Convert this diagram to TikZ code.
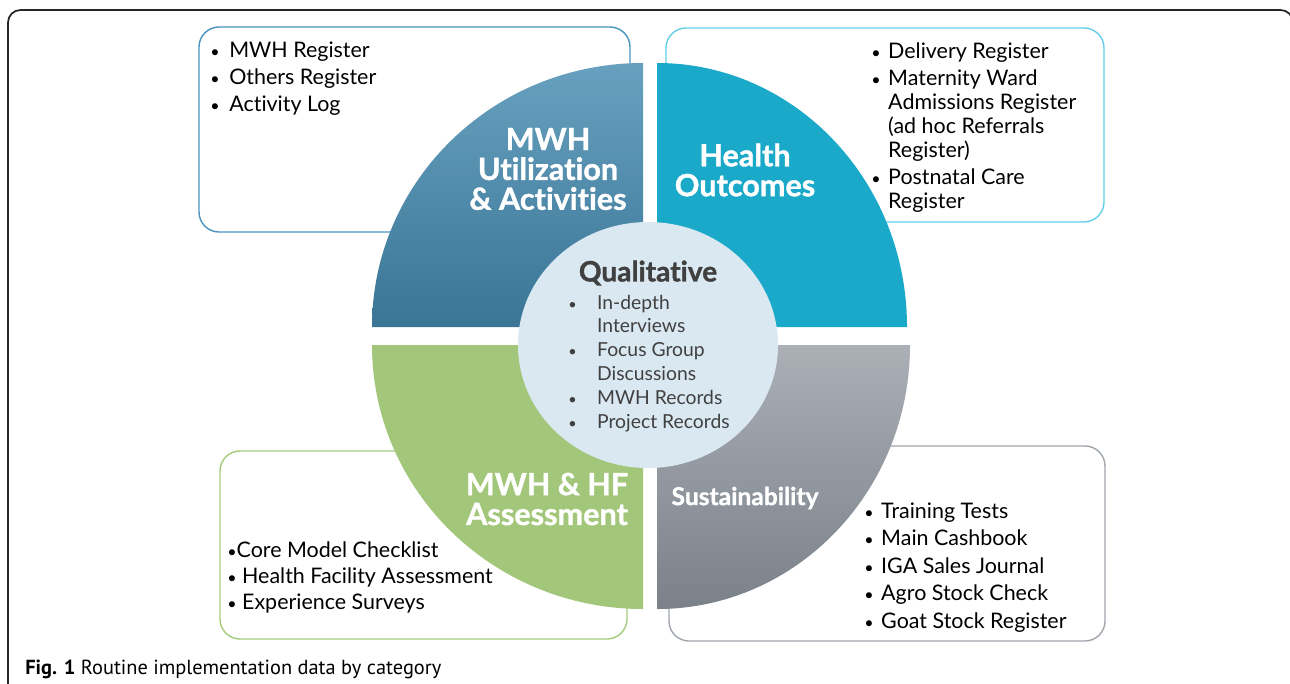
\documentclass[tikz,border=0pt]{standalone}
\usepackage{fontspec}
\setmainfont{Lato}[Ligatures={TeX,CommonOff}, BoldFeatures={FakeBold=1.2}]
\newfontfamily\capfont{PT Sans}
\tikzset{
  list-box/.style={
    line width=0.8pt,
    rounded corners=0.4cm,
    fill=white
  },
  quad-label/.style={text=white, font=\bfseries\fontsize{17.4}{17}\selectfont, align=center, inner sep=0pt},
  list-text/.style={anchor=base west, inner sep=0pt, font=\fontsize{12.2}{15.6}\selectfont, text=black},
  qual-text/.style={anchor=base west, inner sep=0pt, font=\fontsize{11}{13.6}\selectfont, text=qualtext}
}
\definecolor{utilblue}{RGB}{58,117,149}
\definecolor{utilbluelight}{RGB}{104,161,192}
\definecolor{outcomecyan}{RGB}{27,169,201}
\definecolor{assessgreen}{RGB}{163,199,122}
\definecolor{sustgray}{RGB}{122,129,137}
\definecolor{sustgraylight}{RGB}{171,175,182}
\definecolor{qualfill}{RGB}{218,232,241}
\definecolor{qualtext}{RGB}{64,64,64}
\definecolor{frameblue}{RGB}{75,148,190}
\definecolor{framecyan}{RGB}{100,206,230}
\definecolor{framegreen}{RGB}{165,204,125}
\definecolor{framegray}{RGB}{160,166,174}
\newcommand{\outerframe}{
  \useasboundingbox (0,0) rectangle (1290,683);
  \draw[line width=1pt, rounded corners=0.25cm, draw=black!85] (8,720) -- (8,10) -- (1293,10) -- (1293,720);
}
\newcommand{\itembullet}{\scalebox{0.75}{\textbullet}}

\begin{document}
\begin{tikzpicture}[x=0.02cm, y=-0.02cm]
  \outerframe
  % List boxes (behind the wheel)
  \draw[list-box, draw=frameblue] (199,27) rectangle (630,232);
  \draw[list-box, draw=framecyan] (666,28) rectangle (1104,222);
  \draw[list-box, draw=framegreen] (220,451) rectangle (627,639);
  \draw[list-box, draw=framegray] (669,446) rectangle (1105,641);
  % Quadrants
  \shade[top color=utilbluelight, bottom color=utilblue]
    (643,327) -- (372,327) arc[start angle=180, end angle=270, x radius=271, y radius=264] -- cycle;
  \fill[outcomecyan]
    (657,327) -- (657,63) arc[start angle=270, end angle=360, x radius=250, y radius=264] -- cycle;
  \fill[assessgreen]
    (643,345) -- (643,609) arc[start angle=90, end angle=180, x radius=271, y radius=264] -- cycle;
  \shade[top color=sustgraylight, bottom color=sustgray]
    (657,345) -- (910,345) arc[start angle=0, end angle=90, x radius=253, y radius=264] -- cycle;
  % Centre
  \fill[qualfill] (648,345) ellipse[x radius=130, y radius=123];
  % Quadrant labels
  \node[quad-label] (util-label) at (548,169) {MWH\\Utilization\\\& Activities};
  \node[quad-label] (outcome-label) at (745,170) {Health\\Outcomes};
  \node[quad-label] (assess-label) at (547,499) {MWH \& HF\\Assessment};
  \node[quad-label, font=\bfseries\fontsize{14}{15}\selectfont] (sust-label) at (745,498) {Sustainability};
  % Qualitative
  \node[font=\bfseries\fontsize{16}{18}\selectfont, text=qualtext, inner sep=0pt] (qual-title) at (648,273) {Qualitative};
  \node[qual-text] (qual-list) at (568,309) {%
    \begin{tabular}[t]{@{}l@{}l@{}}
      \makebox[16.4pt][l]{\itembullet} & In-depth\\
       & Interviews\\
      \makebox[16.4pt][l]{\itembullet} & Focus Group\\
       & Discussions\\
      \makebox[16.4pt][l]{\itembullet} & MWH Records\\
      \makebox[16.4pt][l]{\itembullet} & Project Records
    \end{tabular}};
  % Lists
  \node[list-text] (util-list) at (210,57) {%
    \begin{tabular}[t]{@{}l@{}l@{}}
      \makebox[10.8pt][l]{\itembullet} & MWH Register\\
      \makebox[10.8pt][l]{\itembullet} & Others Register\\
      \makebox[10.8pt][l]{\itembullet} & Activity Log
    \end{tabular}};
  \node[list-text, font=\fontsize{12.2}{13.6}\selectfont] (outcome-list) at (871,58) {%
    \begin{tabular}[t]{@{}l@{}l@{}}
      \makebox[9.6pt][l]{\itembullet} & Delivery Register\\[2.2pt]
      \makebox[9.6pt][l]{\itembullet} & Maternity Ward\\
       & Admissions Register\\
       & (ad hoc Referrals\\
       & Register)\\[1.7pt]
      \makebox[9.6pt][l]{\itembullet} & Postnatal Care\\
       & Register
    \end{tabular}};
  \node[list-text, font=\fontsize{12.2}{15}\selectfont] (assess-list) at (227,557) {%
    \begin{tabular}[t]{@{}l@{}}
      \itembullet Core Model Checklist\\
      \itembullet{} Health Facility Assessment\\
      \itembullet{} Experience Surveys
    \end{tabular}};
  \node[list-text, font=\fontsize{12.2}{15.7}\selectfont] (sust-list) at (864,518) {%
    \begin{tabular}[t]{@{}l@{}l@{}}
      \makebox[9.6pt][l]{\itembullet} & Training Tests\\
      \makebox[9.6pt][l]{\itembullet} & Main Cashbook\\
      \makebox[9.6pt][l]{\itembullet} & IGA Sales Journal\\
      \makebox[9.6pt][l]{\itembullet} & Agro Stock Check\\
      \makebox[9.6pt][l]{\itembullet} & Goat Stock Register
    \end{tabular}};
  % Caption
  \node[anchor=base west, inner sep=0pt, font=\capfont\fontsize{11.6}{13}\selectfont] (caption) at (25,674)
    {\textbf{Fig. 1} Routine implementation data by category};
\end{tikzpicture}
\end{document}
